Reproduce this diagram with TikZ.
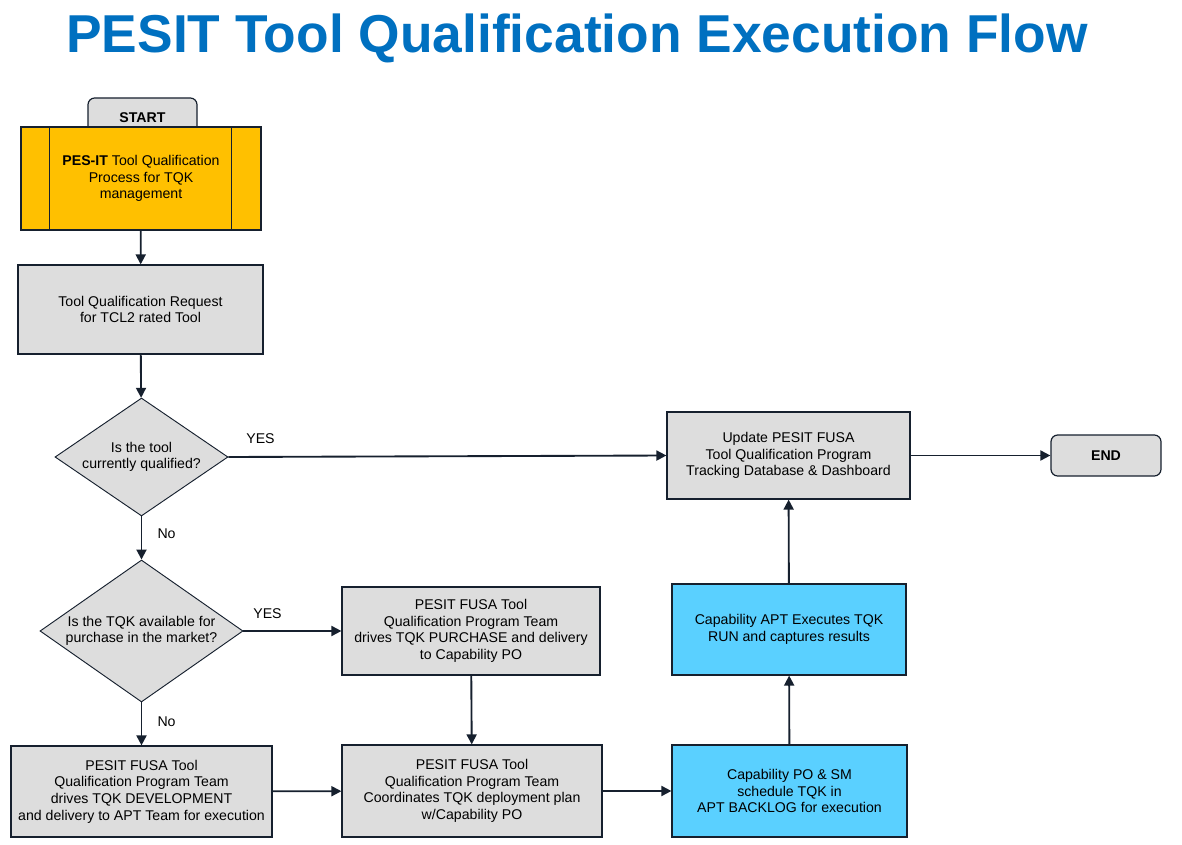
\documentclass[tikz,border=0pt]{standalone}
\usepackage{fontspec}
\setmainfont{Liberation Sans}
\usetikzlibrary{arrows.meta,shapes.geometric}

\definecolor{titleblue}{RGB}{0,112,192}
\definecolor{boxgray}{RGB}{221,221,221}
\definecolor{procyellow}{RGB}{255,192,0}
\definecolor{runblue}{RGB}{90,208,255}
\definecolor{edgedark}{RGB}{22,32,46}

\begin{document}
\begin{tikzpicture}[x=0.75pt, y=-0.75pt, font=\fontsize{10.6}{12.5}\selectfont,
    box/.style = {draw=edgedark, line width=0.9pt, fill=boxgray, align=center, inner sep=0pt},
    runbox/.style = {box, fill=runblue},
    terminal/.style = {box, rounded corners=5pt},
    decision/.style = {draw=edgedark, line width=0.7pt, fill=boxgray, diamond, inner sep=0pt},
    arr/.style = {draw=edgedark, line width=1.4pt, -{Triangle[length=7.5pt,width=7.5pt]}}]
    \useasboundingbox (0,0) rectangle (1182,845);

    \node (title) at (577,38) {\fontsize{40}{46}\selectfont\bfseries\color{titleblue}PESIT Tool Qualification Execution Flow};

    \node[terminal, minimum width=81.75pt, minimum height=30pt] (start) at (142.5,118) {\bfseries START};
    \node[box, fill=procyellow, minimum width=180pt, minimum height=77.25pt] (pes) at (141,178.5)
        {\textbf{PES-IT} Tool Qualification\\Process for TQK\\management};
    \draw[edgedark, line width=0.9pt] ([xshift=21.75pt]pes.north west) -- ([xshift=21.75pt]pes.south west);
    \draw[edgedark, line width=0.9pt] ([xshift=-22.5pt]pes.north east) -- ([xshift=-22.5pt]pes.south east);

    \node[box, minimum width=183.75pt, minimum height=66.75pt] (req) at (140.5,309.5)
        {Tool Qualification Request\\for TCL2 rated Tool};
    \node[decision, minimum width=129.75pt, minimum height=88.5pt,
        label={[align=center]center:Is the tool\\currently qualified?}] (d1) at (141.5,457) {};
    \node[decision, minimum width=152.25pt, minimum height=106.5pt,
        label={[align=center]center:Is the TQK available for\\purchase in the market?}] (d2) at (141.5,631) {};

    \node[box, minimum width=182.25pt, minimum height=65.25pt] (upd) at (788.5,455.5)
        {Update PESIT FUSA\\Tool Qualification Program\\Tracking Database \& Dashboard};
    \node[terminal, minimum width=82.5pt, minimum height=30.75pt] (end) at (1106,455.5) {\bfseries END};

    \node[box, minimum width=193.5pt, minimum height=66pt] (buy) at (471,631)
        {PESIT FUSA Tool\\Qualification Program Team\\drives TQK PURCHASE and delivery\\to Capability PO};
    \node[box, minimum width=195.75pt, minimum height=68.25pt] (dev) at (141.5,791.5)
        {PESIT FUSA Tool\\Qualification Program Team\\drives TQK DEVELOPMENT\\and delivery to APT Team for execution};
    \node[box, minimum width=195pt, minimum height=69pt] (plan) at (472,791)
        {PESIT FUSA Tool\\Qualification Program Team\\Coordinates TQK deployment plan\\w/Capability PO};
    \node[runbox, minimum width=176.25pt, minimum height=69pt] (sched) at (789.5,791)
        {Capability PO \& SM\\schedule TQK in\\APT BACKLOG for execution};
    \node[runbox, minimum width=175.5pt, minimum height=68.25pt] (run) at (789,629.5)
        {Capability APT Executes TQK\\RUN and captures results};

    \draw[arr] (pes) -- (req);
    \draw[arr] (req) -- (d1);
    \draw[arr] (d1.east) -- node[at start, xshift=24pt, yshift=14pt] {YES} (upd.west);
    \draw[arr] (upd) -- (end);
    \draw[arr] (d1.south) -- node[midway, right=8pt, yshift=3pt] {No} (d2.north);
    \draw[arr] (d2.east) -- node[at start, xshift=18pt, yshift=13pt] {YES} (buy.west);
    \draw[arr] (d2.south) -- node[midway, right=8pt, yshift=2pt] {No} (dev.north);
    \draw[arr] (buy) -- (plan);
    \draw[arr] (dev) -- (plan);
    \draw[arr] (plan) -- (sched);
    \draw[arr] (sched) -- (run);
    \draw[arr] (run) -- (upd);

\end{tikzpicture}
\end{document}
